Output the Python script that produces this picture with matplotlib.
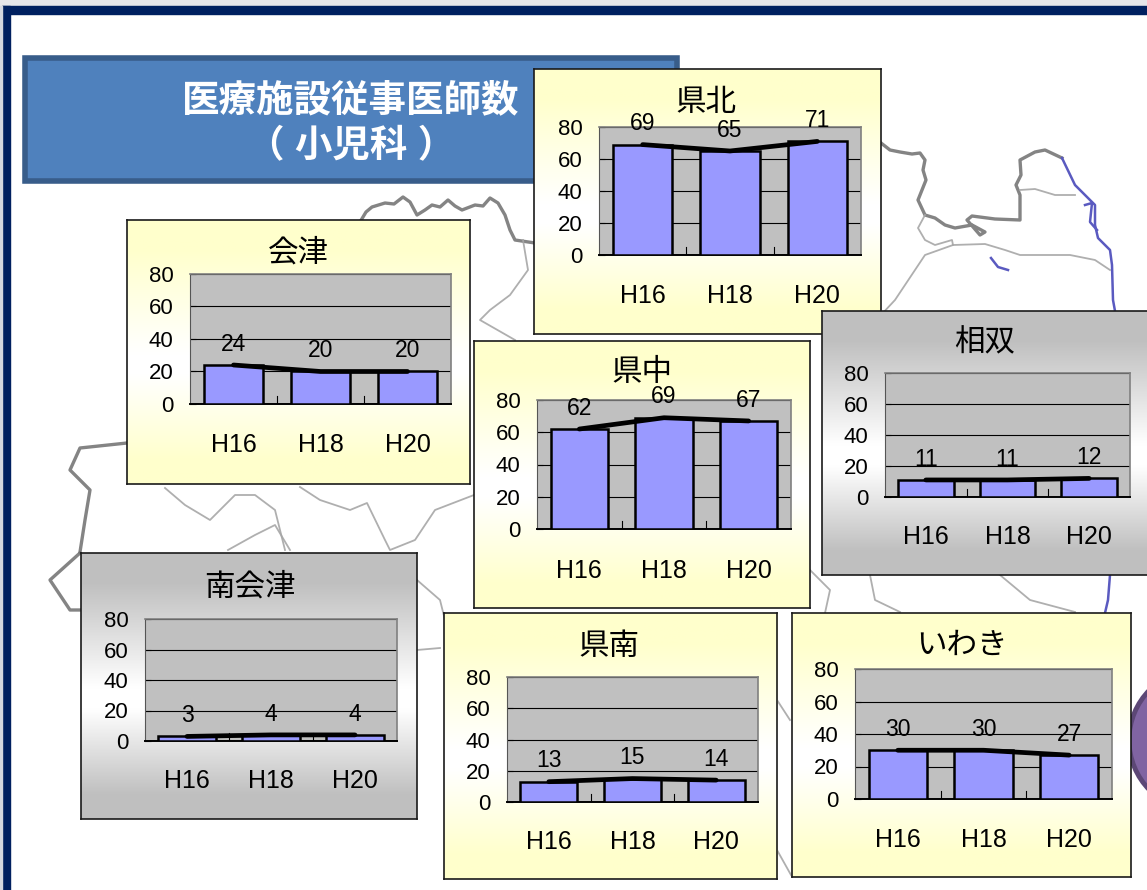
import numpy as np
import matplotlib
matplotlib.use("Agg")
import matplotlib.pyplot as plt
from matplotlib.patches import Rectangle, Circle

plt.rcParams['font.family'] = ['Liberation Sans', 'Noto Sans CJK JP', 'DejaVu Sans']

W, H = 1147, 890

years = ["H16", "H18", "H20"]
yticks = [0, 20, 40, 60, 80]

aizu = [24, 20, 20]
kenpoku = [69, 65, 71]
kenchu = [62, 69, 67]
soso = [11, 11, 12]
minamiaizu = [3, 4, 4]
kennan = [13, 15, 14]
iwaki = [30, 30, 27]

title_lines = ["医療施設従事医師数", "（ 小児科 ）"]

# map outline behind the panels, in picture pixels
map_thick = [
    [(360, 222), (366, 212), (372, 207), (385, 203), (394, 204), (403, 197), (410, 202), (417, 215),
     (425, 210), (432, 205), (440, 207), (448, 200), (455, 206), (462, 210), (475, 205), (483, 206),
     (490, 198), (498, 203), (505, 215), (510, 230), (515, 240), (535, 243)],
    [(881, 143), (890, 150), (900, 152), (912, 154), (920, 153), (925, 160), (923, 170), (926, 180),
     (922, 190), (918, 200), (925, 215), (935, 218), (945, 225), (955, 228), (972, 225), (985, 232),
     (980, 235), (967, 220), (972, 216), (995, 219), (1020, 220), (1020, 195), (1016, 185), (1021, 175),
     (1020, 160), (1035, 152), (1045, 150), (1062, 158)],
    [(127, 443), (80, 448), (70, 470), (90, 490), (85, 520), (80, 552)],
    [(80, 553), (50, 580), (70, 610), (81, 610)],
]
map_thin = [
    [(523, 240), (528, 270), (510, 295), (490, 310), (480, 320), (515, 340)],
    [(925, 215), (918, 228), (925, 240), (935, 245), (952, 240), (953, 245), (925, 255), (915, 270),
     (905, 285), (895, 300), (881, 315)],
    [(953, 245), (985, 244), (1005, 250), (1020, 255), (1040, 255), (1070, 255), (1095, 260), (1110, 270)],
    [(1020, 190), (1035, 189), (1055, 195), (1075, 195)],
    [(165, 488), (185, 505), (210, 520), (235, 495), (255, 495), (275, 510), (285, 550)],
    [(228, 550), (255, 535), (275, 525), (290, 550)],
    [(300, 487), (320, 500), (350, 510), (367, 503), (385, 540), (390, 550), (415, 540), (435, 510), (474, 495)],
    [(417, 580), (440, 600), (445, 620)],
    [(417, 650), (440, 648)],
    [(810, 570), (830, 590), (825, 613)],
    [(870, 575), (875, 600), (900, 612)],
    [(1000, 575), (1030, 600), (1075, 612)],
    [(777, 700), (790, 720)],
    [(777, 850), (791, 875)],
]
map_blue = [
    [(1062, 158), (1075, 185), (1085, 195), (1095, 205), (1095, 225), (1098, 238), (1110, 250),
     (1112, 265), (1113, 300), (1115, 311)],
    [(1085, 205), (1092, 203), (1090, 222), (1097, 230)],
    [(991, 258), (998, 267), (1008, 270)],
    [(1110, 575), (1108, 600), (1105, 613)],
]


def px_axes(x0, y0, x1, y1, z):
    ax = fig.add_axes([x0 / W, 1 - y1 / H, (x1 - x0) / W, (y1 - y0) / H], zorder=z)
    return ax


def panel(name, values, box, plot, title_xy, cat_y, edge_col, z):
    x0, y0, x1, y1 = box
    back = px_axes(x0, y0, x1, y1, z)
    t = np.linspace(0, 1, 256)
    grad = np.where(t < 0.55, (0.55 - t) / 0.55, (t - 0.55) / 0.45).reshape(-1, 1)
    grad = np.clip((grad - 0.08) / 0.72, 0, 1)
    if edge_col == "yellow":
        rgb = np.dstack([1 - grad * 0, 1 - grad * 0, 1 - grad * 0.2])
    else:
        rgb = np.dstack([1 - grad * 0.25, 1 - grad * 0.25, 1 - grad * 0.25])
    back.imshow(rgb, aspect="auto", extent=(x0, x1, y1, y0))
    back.set_xticks([])
    back.set_yticks([])
    for s in back.spines.values():
        s.set_linewidth(1.2)
        s.set_color("#1a1a1a")
    back.text(title_xy[0], title_xy[1] + 3, name, fontsize=22, ha="center", va="center", color="black")

    px0, py0, px1, py1 = plot
    ax = px_axes(px0, py0, px1, py1, z + 0.5)
    ax.set_facecolor("#c0c0c0")
    x = np.arange(len(years))
    ax.yaxis.grid(True, color="black", lw=0.8)
    ax.set_axisbelow(True)
    ax.bar(x, values, width=0.68, color="#9999ff", edgecolor="black", linewidth=1.8, zorder=3)
    ax.plot(x, values, color="black", lw=3.4, zorder=4, solid_capstyle="round")
    for i, v in enumerate(values):
        ax.annotate(str(v), (x[i], v), xytext=(0, 15), textcoords="offset points",
                    ha="center", va="center", fontsize=16.5, color="black", zorder=5,
                    annotation_clip=False)
    ax.set_xlim(-0.5, 2.5)
    ax.set_ylim(0, 80)
    ax.set_yticks(yticks)
    ax.set_xticks(x)
    ax.set_xticklabels(years, fontsize=18)
    ax.tick_params(axis="y", labelsize=16, direction="in", length=4, width=0.8, pad=12)
    ax.tick_params(axis="x", length=0, pad=(cat_y - py1 - 9) * 0.72)
    for s in ["top", "right"]:
        ax.spines[s].set_color("#808080")
        ax.spines[s].set_linewidth(1.2)
    ax.spines["left"].set_color("#555555")
    ax.spines["bottom"].set_color("black")
    ax.spines["bottom"].set_linewidth(1.4)
    for t in [0.5, 1.5]:
        ax.plot([t, t], [0, 5], color="black", lw=0.8, zorder=2)


fig = plt.figure(figsize=(W / 100, H / 100), dpi=100, facecolor="white")
bg = fig.add_axes([0, 0, 1, 1], zorder=0)
bg.set_xlim(0, W)
bg.set_ylim(H, 0)
bg.axis("off")

bg.add_patch(Rectangle((0, 0), W, 6, color="#e6e6ea"))
bg.add_patch(Rectangle((2, 6), W, 8, color="#002060"))
bg.add_patch(Rectangle((2, 6), 8, H, color="#002060"))
bg.add_patch(Rectangle((0, 6), 2, H, color="#d5d8e0"))

for line in map_thick:
    xs, ys = zip(*line)
    bg.plot(xs, ys, color="#6e6e6e", lw=2.4, alpha=0.85)
for line in map_thin:
    xs, ys = zip(*line)
    bg.plot(xs, ys, color="#a6a6a6", lw=1.3, alpha=0.9)
for line in map_blue:
    xs, ys = zip(*line)
    bg.plot(xs, ys, color="#5a5ac0", lw=1.8)

bg.add_patch(Rectangle((25, 58), 652, 123, facecolor="#4f81bd", edgecolor="#385d8a", linewidth=4))
bg.text(351, 101, title_lines[0], fontsize=27, fontweight="bold", color="white", ha="center", va="center")
bg.text(351, 147, title_lines[1], fontsize=27, fontweight="bold", color="white", ha="center", va="center")
bg.add_patch(Circle((1200, 740), 71, facecolor="#8064a2", edgecolor="#5c4776", linewidth=3.5))

panel("会津", aizu, (127, 220, 470, 484), (190, 274, 451, 404), (298, 251), 442, "yellow", 2)
panel("県北", kenpoku, (534, 69, 881, 334), (599, 127, 861, 255), (706, 100), 293, "yellow", 3)
panel("県中", kenchu, (474, 341, 810, 608), (537, 400, 791, 529), (642, 370), 568, "yellow", 4)
panel("相双", soso, (822, 311, 1150, 575), (885, 373, 1130, 497), (985, 340), 534, "gray", 5)
panel("南会津", minamiaizu, (81, 553, 417, 819), (145, 619, 397, 741), (250, 585), 778, "gray", 6)
panel("県南", kennan, (444, 613, 777, 879), (507, 677, 758, 802), (609, 644), 839, "yellow", 7)
panel("いわき", iwaki, (792, 613, 1131, 877), (855, 669, 1112, 799), (962, 643), 837, "yellow", 8)

plt.savefig("out.png", dpi=100)
